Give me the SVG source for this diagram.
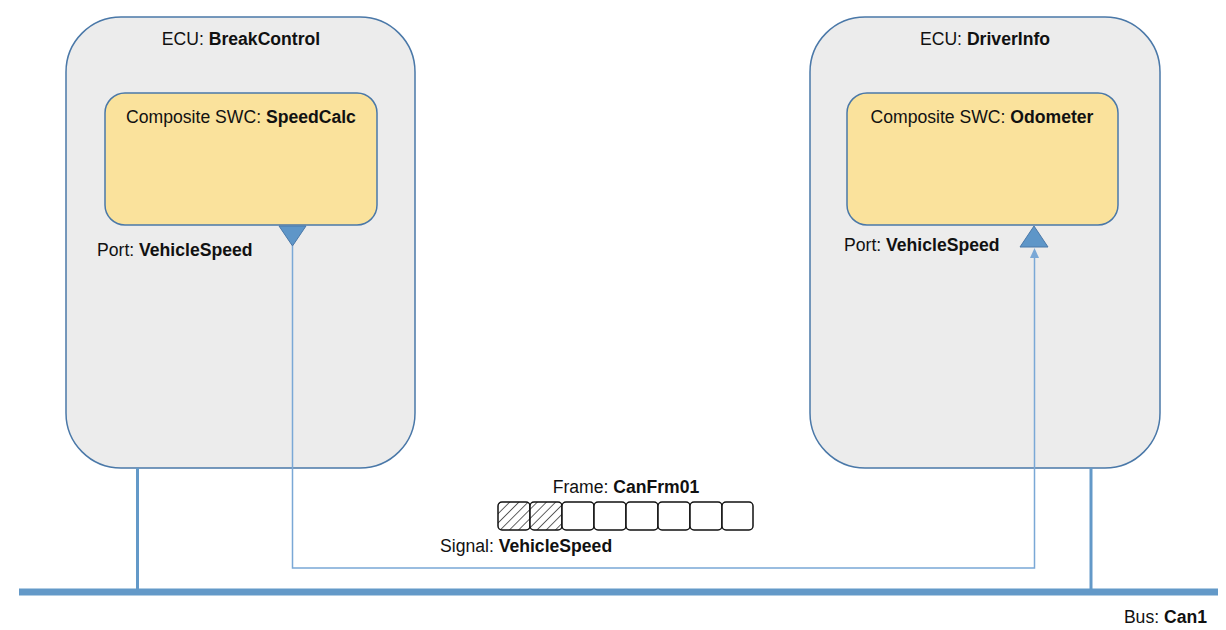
<svg xmlns="http://www.w3.org/2000/svg" width="1226" height="630" viewBox="0 0 1226 630">
<style>
.ecu{fill:#ececec;stroke:#4a78a8;stroke-width:1.5}
.swc{fill:#fae29c;stroke:#4a78a8;stroke-width:1.5}
.port{fill:#5e96c8;stroke:#4a78a8;stroke-width:1}
.t{font-family:"Liberation Sans",Arial,sans-serif;font-size:17.6px;fill:#111}
.b{font-weight:bold}
.bus{stroke:#6399c8;fill:none}
.conn{stroke:#7aa8d6;stroke-width:1.5;fill:none}
.cell{fill:#fff;stroke:#111;stroke-width:1.5}
.hcell{fill:url(#hatch);stroke:#111;stroke-width:1.5}
</style>
<defs>
<pattern id="hatch" patternUnits="userSpaceOnUse" width="6.5" height="6.5" patternTransform="rotate(45)">
<rect width="6.5" height="6.5" fill="#fff"/>
<line x1="0" y1="0" x2="0" y2="6.5" stroke="#111" stroke-width="1.3"/>
</pattern>
</defs>
<rect width="1226" height="630" fill="#fff"/>
<g id="ecu-breakcontrol">
<rect class="ecu" x="66" y="17" width="349" height="451" rx="55" ry="55"/>
<text class="t" x="241" y="45" text-anchor="middle">ECU: <tspan class="b">BreakControl</tspan></text>
</g>
<g id="ecu-driverinfo">
<rect class="ecu" x="810" y="17" width="350" height="451" rx="55" ry="55"/>
<text class="t" x="985" y="45" text-anchor="middle">ECU: <tspan class="b">DriverInfo</tspan></text>
</g>
<g id="swc-speedcalc">
<rect class="swc" x="105" y="93" width="272" height="132" rx="20" ry="20"/>
<text class="t" x="241" y="123" text-anchor="middle">Composite SWC: <tspan class="b">SpeedCalc</tspan></text>
</g>
<g id="swc-odometer">
<rect class="swc" x="847" y="93" width="271" height="132" rx="20" ry="20"/>
<text class="t" x="982" y="123" text-anchor="middle">Composite SWC: <tspan class="b">Odometer</tspan></text>
</g>
<g id="port-left">
<polygon class="port" points="279,226 306,226 292.5,246"/>
<text class="t" x="97" y="256">Port: <tspan class="b">VehicleSpeed</tspan></text>
</g>
<g id="port-right">
<polygon class="port" points="1020,247 1048,247 1034,226"/>
<text class="t" x="844" y="251">Port: <tspan class="b">VehicleSpeed</tspan></text>
</g>
<g id="bus-can1">
<line class="bus" x1="19" y1="592" x2="1218" y2="592" stroke-width="7"/>
<text class="t" x="1207" y="623" text-anchor="end">Bus: <tspan class="b">Can1</tspan></text>
</g>
<g id="connectors">
<line class="bus" x1="137.5" y1="468" x2="137.5" y2="590" stroke-width="3"/>
<line class="bus" x1="1091" y1="468" x2="1091" y2="590" stroke-width="3"/>
<polyline class="conn" points="292.5,246 292.5,568 1034.5,568 1034.5,256"/>
<polygon points="1030,258 1039,258 1034.5,248" fill="#7aa8d6"/>
</g>
<g id="frame-canfrm01">
<text class="t" x="626" y="493" text-anchor="middle">Frame: <tspan class="b">CanFrm01</tspan></text>
<rect class="hcell" x="498" y="502" width="32" height="28" rx="4"/>
<rect class="hcell" x="530" y="502" width="32" height="28" rx="4"/>
<rect class="cell" x="562" y="502" width="32" height="28" rx="4"/>
<rect class="cell" x="594" y="502" width="32" height="28" rx="4"/>
<rect class="cell" x="626" y="502" width="32" height="28" rx="4"/>
<rect class="cell" x="658" y="502" width="32" height="28" rx="4"/>
<rect class="cell" x="690" y="502" width="32" height="28" rx="4"/>
<rect class="cell" x="722" y="502" width="31" height="28" rx="4"/>
<text class="t" x="440" y="552">Signal: <tspan class="b">VehicleSpeed</tspan></text>
</g>
</svg>
